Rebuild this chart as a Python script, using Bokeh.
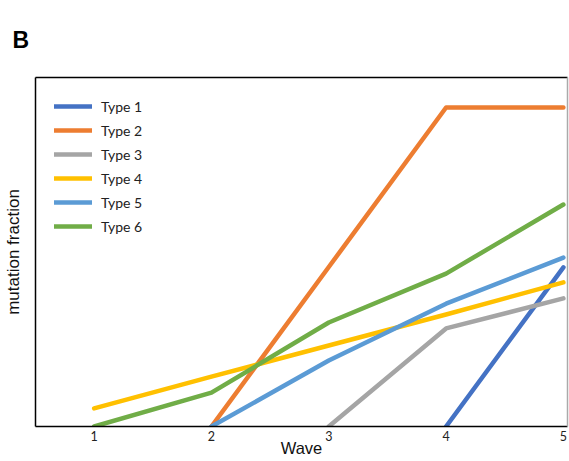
from bokeh.plotting import figure
from bokeh.models import Range1d, LinearAxis, FixedTicker, Legend, LegendItem, Title
from bokeh.embed import file_html
from bokeh.resources import INLINE

waves = [1, 2, 3, 4, 5]
tick_labels = ["1", "2", "3", "4", "5"]
series_names = ["Type 1", "Type 2", "Type 3", "Type 4", "Type 5", "Type 6"]
type1 = [None, None, None, 0.0, 0.456]
type2 = [None, 0.0, 0.457, 0.914, 0.914]
type3 = [None, None, 0.0, 0.281, 0.367]
type4 = [0.052, 0.143, 0.232, 0.321, 0.413]
type5 = [None, 0.0, 0.189, 0.352, 0.484]
type6 = [0.0, 0.097, 0.298, 0.438, 0.636]
colors = ["#4472C4", "#ED7D31", "#A5A5A5", "#FFC000", "#5B9BD5", "#70AD47"]
series = [type1, type2, type3, type4, type5, type6]

p = figure(width=569, height=461, output_backend="svg", toolbar_location=None,
           x_range=Range1d(0.5, 5.035), y_range=Range1d(0, 1),
           min_border_left=35, min_border_right=2, min_border_top=77, min_border_bottom=35)

p.title = Title(text="B", text_font="Liberation Sans", text_font_size="23px",
                text_font_style="bold", text_color="black", align="left",
                vertical_align="top", offset=-23, standoff=45)

p.xgrid.visible = False
p.ygrid.visible = False
p.outline_line_color = None
p.background_fill_color = "white"
p.border_fill_color = "white"

items = []
for name, vals, col in zip(series_names, series, colors):
    xs = [w for w, v in zip(waves, vals) if v is not None]
    ys = [v for v in vals if v is not None]
    r = p.line(xs, ys, line_color=col, line_width=4.5, line_cap="round", line_join="round")
    items.append(LegendItem(label=name, renderers=[r]))

# x axis
xa = p.xaxis[0]
xa.ticker = FixedTicker(ticks=waves)
xa.major_label_overrides = {w: t for w, t in zip(waves, tick_labels)}
xa.major_tick_out = 0
xa.major_tick_in = 0
xa.minor_tick_out = 0
xa.minor_tick_in = 0
xa.axis_line_color = "black"
xa.axis_line_width = 1.5
xa.major_label_text_font = "Lato"
xa.major_label_text_font_size = "12.5px"
xa.major_label_text_color = "#222222"
xa.major_label_standoff = 4
xa.axis_label = "Wave"
xa.axis_label_text_font = "Liberation Sans"
xa.axis_label_text_font_size = "16.5px"
xa.axis_label_text_font_style = "normal"
xa.axis_label_standoff = -5
xa.axis_label_text_color = "#111111"

# y axis
ya = p.yaxis[0]
ya.major_tick_out = 0
ya.major_tick_in = 0
ya.minor_tick_out = 0
ya.minor_tick_in = 0
ya.major_label_text_font_size = "0px"
ya.major_label_text_color = None
ya.axis_line_color = "black"
ya.axis_line_width = 1.5
ya.axis_label = "mutation fraction"
ya.axis_label_text_font = "Liberation Sans"
ya.axis_label_text_font_size = "17px"
ya.axis_label_text_font_style = "normal"
ya.axis_label_standoff = 13
ya.axis_label_text_color = "#111111"

for loc, col in (("above", "black"), ("right", "#AAAAAA")):
    ax = LinearAxis(major_tick_out=0, major_tick_in=0, minor_tick_out=0, minor_tick_in=0,
                    major_label_text_font_size="0px", major_label_text_color=None,
                    axis_line_color=col, axis_line_width=1.5)
    p.add_layout(ax, loc)

legend = Legend(items=items, location="top_left", margin=19, padding=10, spacing=4,
                glyph_width=38, glyph_height=20, label_height=20, label_standoff=9,
                label_text_font="Lato", label_text_font_size="14px",
                label_text_color="#222222",
                border_line_color=None, background_fill_alpha=0)
p.add_layout(legend, "center")

open("out.html", "w").write(file_html(p, INLINE))
